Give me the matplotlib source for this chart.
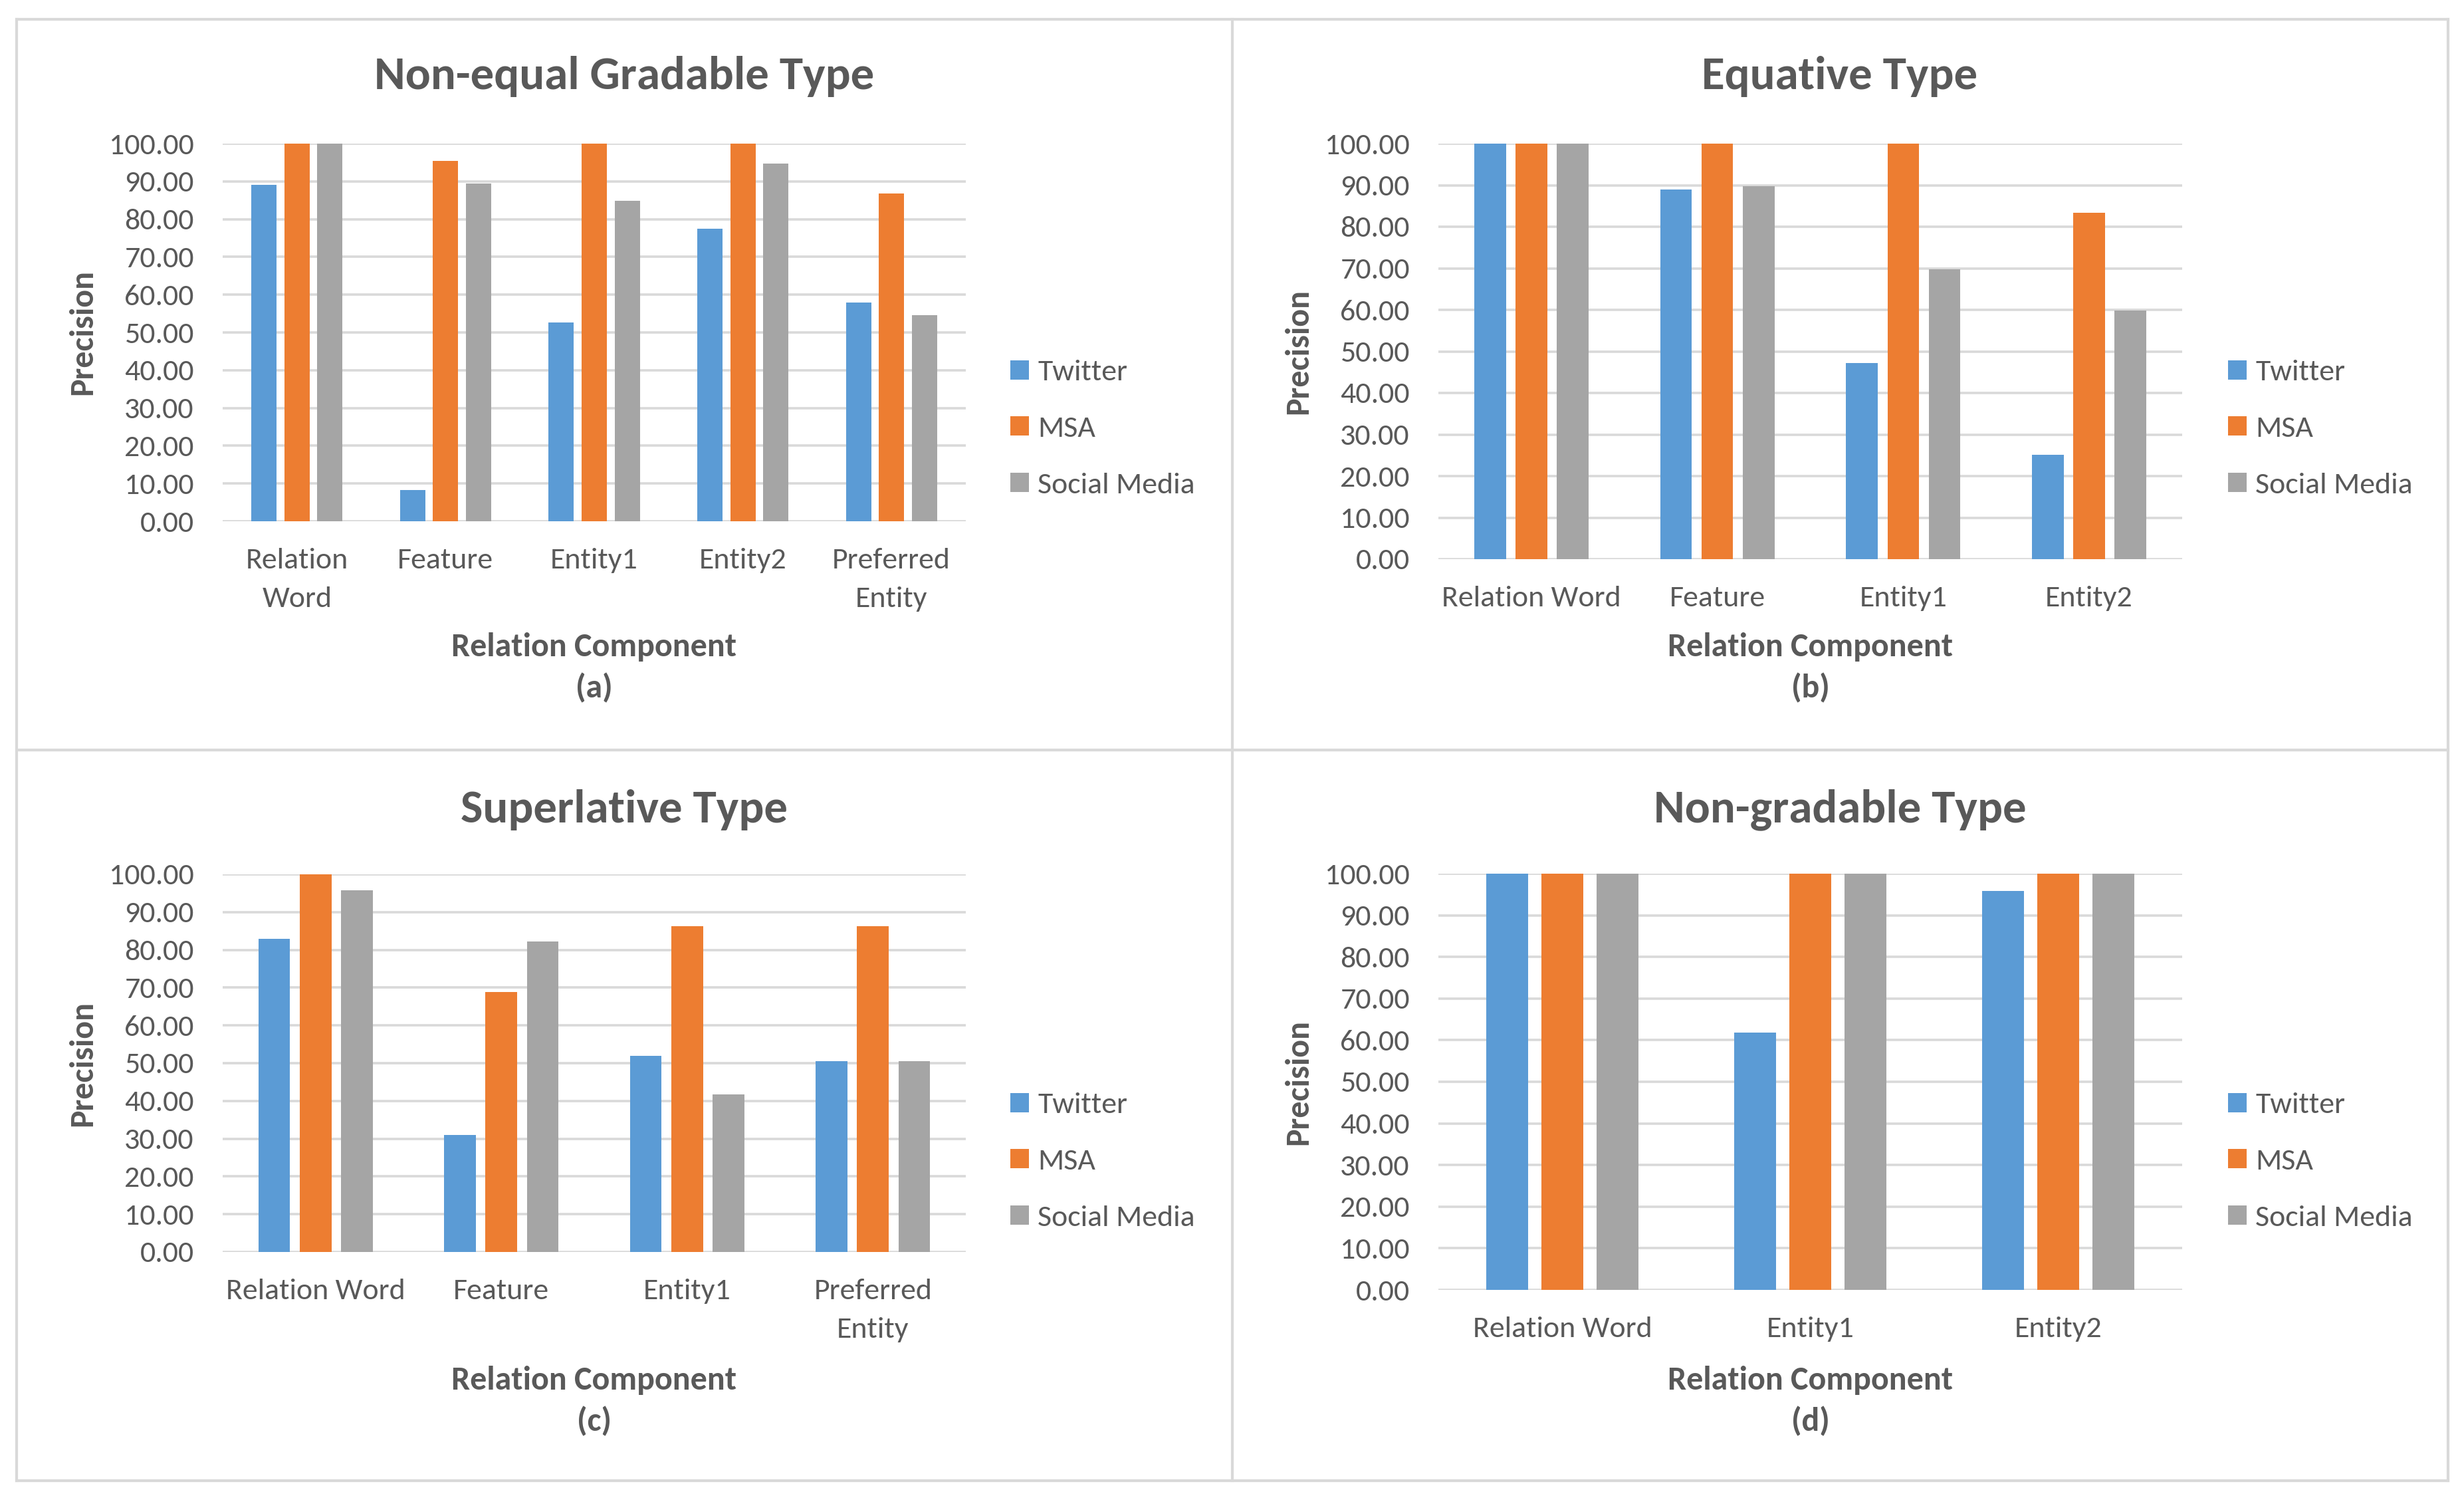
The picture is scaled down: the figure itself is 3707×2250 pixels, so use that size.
import matplotlib
matplotlib.use("Agg")
import matplotlib.pyplot as plt
from matplotlib.patches import Patch
from matplotlib.lines import Line2D
import numpy as np

W, H = 3707, 2250
FONT = ["Carlito", "Lato", "DejaVu Sans"]
plt.rcParams["font.family"] = FONT
TXT = "#595959"
GRID = "#D9D9D9"

series = ["Twitter", "MSA", "Social Media"]
colors = ["#5B9BD5", "#ED7D31", "#A5A5A5"]
yticks = [0, 10, 20, 30, 40, 50, 60, 70, 80, 90, 100]

cats_a = ["Relation\nWord", "Feature", "Entity1", "Entity2", "Preferred\nEntity"]
twitter_a = [89.0, 8.2, 52.7, 77.4, 58.0]
msa_a = [100.0, 95.5, 100.0, 100.0, 86.8]
social_a = [100.0, 89.5, 84.8, 94.8, 54.6]

cats_b = ["Relation Word", "Feature", "Entity1", "Entity2"]
twitter_b = [100.0, 88.9, 47.2, 25.2]
msa_b = [100.0, 100.0, 100.0, 83.3]
social_b = [100.0, 89.8, 69.7, 59.9]

cats_c = ["Relation Word", "Feature", "Entity1", "Preferred\nEntity"]
twitter_c = [82.9, 31.0, 51.9, 50.6]
msa_c = [100.0, 68.8, 86.2, 86.2]
social_c = [95.7, 82.2, 41.8, 50.6]

cats_d = ["Relation Word", "Entity1", "Entity2"]
twitter_d = [100.0, 61.8, 95.9]
msa_d = [100.0, 100.0, 100.0]
social_d = [100.0, 100.0, 100.0]

titles = ["Non-equal Gradable Type", "Equative Type", "Superlative Type", "Non-gradable Type"]
letters = ["(a)", "(b)", "(c)", "(d)"]
xlabel = "Relation Component"
ylabel = "Precision"

panels = [
    dict(cats=cats_a, vals=[twitter_a, msa_a, social_a], box=(335, 1453, 216, 784), col=0, row=0),
    dict(cats=cats_b, vals=[twitter_b, msa_b, social_b], box=(2164, 3283, 216, 841), col=1, row=0),
    dict(cats=cats_c, vals=[twitter_c, msa_c, social_c], box=(335, 1453, 1315, 1883), col=0, row=1),
    dict(cats=cats_d, vals=[twitter_d, msa_d, social_d], box=(2164, 3283, 1314, 1940), col=1, row=1),
]

fig = plt.figure(figsize=(W / 100, H / 100), dpi=100)
fig.patch.set_facecolor("white")

def fx(x):
    return x / W

def fy(y):
    return 1 - y / H

# panel borders
bl = dict(color=GRID, lw=3.0, transform=fig.transFigure, zorder=0)
for (x0, y0, x1, y1) in [(25, 29, 3683, 29), (25, 1128, 3683, 1128), (25, 2227, 3683, 2227),
                         (25, 29, 25, 2227), (1854, 29, 1854, 2227), (3683, 29, 3683, 2227)]:
    fig.add_artist(Line2D([fx(x0), fx(x1)], [fy(y0), fy(y1)], **bl))

TICK_FS = 33
w = 0.17
off = 0.222

title_y = [115, 1218]
xlab_y = [973, 2076]
let_y = [1035, 2138]
leg_y = [645, 1747]
leg_x = [1520, 3352]
panel_cx = [939, 2768]

for i, p in enumerate(panels):
    x0, x1, y0, y1 = p["box"]
    col, row = p["col"], p["row"]
    ax = fig.add_axes([fx(x0), fy(y1), (x1 - x0) / W, (y1 - y0) / H])
    n = len(p["cats"])
    x = np.arange(n)
    for k, (vals, c, s) in enumerate(zip(p["vals"], colors, series)):
        ax.bar(x + (k - 1) * off, vals, width=w, color=c, label=s, zorder=3)
    ax.set_xlim(-0.5, n - 0.5)
    ax.set_ylim(0, 100)
    ax.set_yticks(yticks)
    ax.set_yticklabels([f"{v:.2f}" for v in yticks])
    ax.set_xticks(x)
    ax.set_xticklabels(p["cats"], linespacing=1.65)
    ax.yaxis.grid(True, color=GRID, lw=2.6, zorder=0)
    ax.set_axisbelow(True)
    for sp in ax.spines.values():
        sp.set_visible(False)
    ax.tick_params(axis="both", length=0, labelsize=TICK_FS, colors=TXT)
    ax.tick_params(axis="y", pad=31)
    ax.tick_params(axis="x", pad=29)
    ax.set_facecolor("none")

    fig.text(fx(panel_cx[col]), fy(title_y[row]), titles[i], ha="center", va="center",
             fontsize=51, fontweight="bold", color=TXT)
    cx = (x0 + x1) / 2
    fig.text(fx(cx), fy(xlab_y[row]), xlabel, ha="center", va="center", fontsize=36,
             fontweight="bold", color=TXT)
    fig.text(fx(cx), fy(let_y[row]), letters[i], ha="center", va="center", fontsize=36,
             fontweight="bold", color=TXT)
    fig.text(fx(x0 - 211), fy((y0 + y1) / 2), ylabel, ha="center", va="center", rotation=90,
             fontsize=36, fontweight="bold", color=TXT)

    handles = [Patch(facecolor=c, edgecolor="none") for c in colors]
    fig.legend(handles, series, loc="center left", bbox_to_anchor=(fx(leg_x[col]), fy(leg_y[row])),
               frameon=False, fontsize=33, labelcolor=TXT, handlelength=0.6,
               handleheight=0.6, handletextpad=0.3, labelspacing=1.02, borderpad=0,
               borderaxespad=0)

fig.savefig("out.png", dpi=100, facecolor="white")
